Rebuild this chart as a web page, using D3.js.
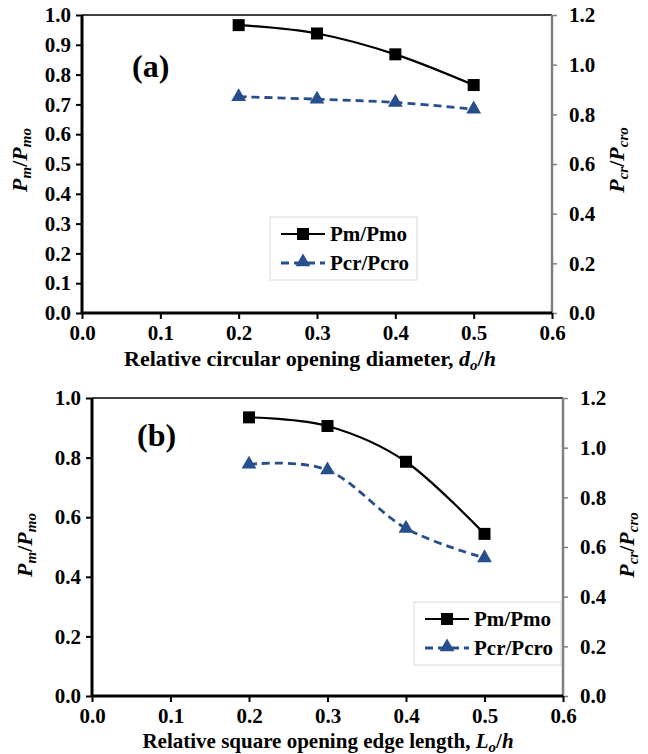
<!DOCTYPE html>
<html>
<head>
<meta charset="utf-8">
<script src="https://cdn.jsdelivr.net/npm/d3@7"></script>
<style>
  body { margin: 0; background: #fff; }
</style>
</head>
<body>
<svg width="648" height="754"></svg>
<script>
// data
const ratios = [0.2, 0.3, 0.4, 0.5];
// panel (a): circular opening
const pmCircular = [0.966, 0.938, 0.868, 0.765];
const pcrCircular = [0.871, 0.861, 0.848, 0.821];
// panel (b): square opening
const pmSquare = [0.935, 0.906, 0.786, 0.544];
const pcrSquare = [0.933, 0.910, 0.675, 0.556];

const xTicks = [0, 0.1, 0.2, 0.3, 0.4, 0.5, 0.6];
const leftTicksA = [0, 0.1, 0.2, 0.3, 0.4, 0.5, 0.6, 0.7, 0.8, 0.9, 1.0];
const leftTicksB = [0, 0.2, 0.4, 0.6, 0.8, 1.0];
const rightTicks = [0, 0.2, 0.4, 0.6, 0.8, 1.0, 1.2];

const FONT = '"Liberation Serif", "Times New Roman", serif';
const svg = d3.select("svg")
  .attr("font-family", FONT)
  .attr("font-weight", "bold");
const blue = "#264f8c";
const fmt = d3.format(".1f");

function styleAxis(a, color, width) {
  a.attr("font-family", FONT).attr("font-size", 21).attr("font-weight", "bold");
  a.selectAll(".tick line").attr("stroke", color).attr("stroke-width", width);
  a.selectAll("text").attr("fill", "#000");
}

function drawPanel(cfg) {
  const x = d3.scaleLinear().domain([0, 0.6]).range([cfg.left, cfg.right]);
  const yL = d3.scaleLinear().domain([0, 1]).range([cfg.bottom, cfg.top]);
  const yR = d3.scaleLinear().domain([0, 1.2]).range([cfg.bottom, cfg.top]);
  const g = svg.append("g");

  // top border
  g.append("line")
    .attr("x1", cfg.left).attr("x2", cfg.right)
    .attr("y1", cfg.top).attr("y2", cfg.top)
    .attr("stroke", "#000").attr("stroke-width", 1.5);

  // right axis (gray)
  const ra = g.append("g").attr("transform", `translate(${cfg.right},0)`)
    .call(d3.axisRight(yR).tickValues(rightTicks).tickFormat(fmt).tickSize(5).tickPadding(12));
  ra.select(".domain").attr("stroke", "#808080").attr("stroke-width", 2.5).attr("d", `M0,${cfg.top}V${cfg.bottom}`);
  styleAxis(ra, "#808080", 1.5);

  // left axis
  const la = g.append("g").attr("transform", `translate(${cfg.left},0)`)
    .call(d3.axisLeft(yL).tickValues(cfg.leftTicks).tickFormat(fmt).tickSize(6).tickPadding(5));
  la.select(".domain").attr("stroke", "#000").attr("stroke-width", 3).attr("d", `M0,${cfg.top}V${cfg.bottom}`);
  styleAxis(la, "#000", 2);

  // bottom axis
  const ba = g.append("g").attr("transform", `translate(0,${cfg.bottom})`)
    .call(d3.axisBottom(x).tickValues(xTicks).tickFormat(fmt).tickSize(6).tickPadding(6));
  ba.select(".domain").attr("stroke", "#000").attr("stroke-width", 3).attr("d", `M${cfg.left},0H${cfg.right}`);
  styleAxis(ba, "#000", 2);

  const line = d3.line().curve(d3.curveCardinal.tension(0));

  // Pcr/Pcro series (right axis)
  g.append("path")
    .attr("d", line(ratios.map((r, i) => [x(r), yR(cfg.pcr[i])])))
    .attr("fill", "none").attr("stroke", blue).attr("stroke-width", 2.8)
    .attr("stroke-dasharray", "8,5");
  g.selectAll(".tri").data(ratios).join("path")
    .attr("transform", (r, i) => `translate(${x(r)},${yR(cfg.pcr[i])})`)
    .attr("d", d3.symbol(d3.symbolTriangle, 95)())
    .attr("fill", blue);

  // Pm/Pmo series (left axis)
  g.append("path")
    .attr("d", line(ratios.map((r, i) => [x(r), yL(cfg.pm[i])])))
    .attr("fill", "none").attr("stroke", "#000").attr("stroke-width", 2.2);
  g.selectAll(".sq").data(ratios).join("rect")
    .attr("x", (r) => x(r) - 6).attr("y", (r, i) => yL(cfg.pm[i]) - 6)
    .attr("width", 12).attr("height", 12).attr("fill", "#000");

  // panel label
  g.append("text").attr("x", cfg.labelX).attr("y", cfg.labelY)
    .attr("font-size", 32).text(cfg.label);

  // legend
  const lg = g.append("g").attr("transform", `translate(${cfg.legX},${cfg.legY})`);
  lg.append("rect").attr("width", 147).attr("height", 63)
    .attr("fill", "#fff").attr("stroke", "#d9d9d9").attr("stroke-width", 1);
  lg.append("line").attr("x1", 11).attr("x2", 55).attr("y1", 17).attr("y2", 17)
    .attr("stroke", "#000").attr("stroke-width", 2.2);
  lg.append("rect").attr("x", 27).attr("y", 11).attr("width", 12).attr("height", 12).attr("fill", "#000");
  lg.append("text").attr("x", 60).attr("y", 24).attr("font-size", 21).text("Pm/Pmo");
  lg.append("line").attr("x1", 11).attr("x2", 55).attr("y1", 46).attr("y2", 46)
    .attr("stroke", blue).attr("stroke-width", 2.8).attr("stroke-dasharray", "8,5");
  lg.append("path").attr("transform", "translate(33,45)")
    .attr("d", d3.symbol(d3.symbolTriangle, 95)()).attr("fill", blue);
  lg.append("text").attr("x", 60).attr("y", 53).attr("font-size", 21).text("Pcr/Pcro");

  // x title
  const xt = g.append("text").attr("x", cfg.xTitleX).attr("y", cfg.xTitleY)
    .attr("text-anchor", "middle").attr("font-size", cfg.xTitleSize);
  xt.append("tspan").text(cfg.xTitle);
  xt.append("tspan").attr("font-style", "italic").text(cfg.xVar);
  xt.append("tspan").attr("font-style", "italic").attr("font-size", 15).attr("dy", 4).text("o");
  xt.append("tspan").attr("dy", -4).text("/");
  xt.append("tspan").attr("font-style", "italic").text("h");

  // left y title
  const yt = g.append("text")
    .attr("transform", `translate(${cfg.yTitleLX},${cfg.yTitleY}) rotate(-90)`)
    .attr("text-anchor", "middle").attr("font-size", 22).attr("font-style", "italic");
  yt.append("tspan").text("P");
  yt.append("tspan").attr("font-size", 15).attr("dy", 4).text("m");
  yt.append("tspan").attr("dy", -4).attr("font-style", "normal").text("/");
  yt.append("tspan").text("P");
  yt.append("tspan").attr("font-size", 15).attr("dy", 4).text("mo");

  // right y title
  const rt = g.append("text")
    .attr("transform", `translate(${cfg.yTitleRX},${cfg.yTitleY}) rotate(-90)`)
    .attr("text-anchor", "middle").attr("font-size", 22).attr("font-style", "italic");
  rt.append("tspan").text("P");
  rt.append("tspan").attr("font-size", 15).attr("dy", 4).text("cr");
  rt.append("tspan").attr("dy", -4).attr("font-style", "normal").text("/");
  rt.append("tspan").text("P");
  rt.append("tspan").attr("font-size", 15).attr("dy", 4).text("cro");
}

drawPanel({
  left: 82, right: 552, top: 15, bottom: 313,
  leftTicks: leftTicksA, pm: pmCircular, pcr: pcrCircular,
  label: "(a)", labelX: 132, labelY: 77,
  legX: 270, legY: 217,
  xTitle: "Relative circular opening diameter, ", xVar: "d", xTitleSize: 22,
  xTitleX: 310, xTitleY: 366,
  yTitleLX: 27, yTitleRX: 624, yTitleY: 160
});

drawPanel({
  left: 92, right: 563, top: 398, bottom: 696,
  leftTicks: leftTicksB, pm: pmSquare, pcr: pcrSquare,
  label: "(b)", labelX: 137, labelY: 446,
  legX: 414, legY: 602,
  xTitle: "Relative square opening edge length, ", xVar: "L", xTitleSize: 21,
  xTitleX: 328, xTitleY: 748,
  yTitleLX: 32, yTitleRX: 634, yTitleY: 545
});
</script>
</body>
</html>
